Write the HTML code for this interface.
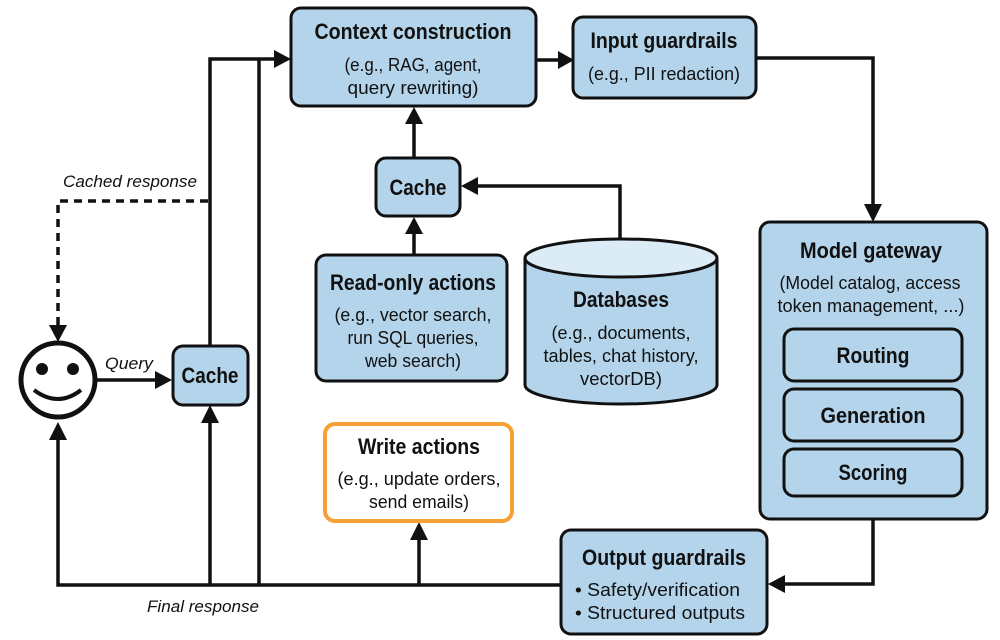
<!DOCTYPE html>
<html><head><meta charset="utf-8"><style>
html,body{margin:0;padding:0;background:#fff;}
svg{display:block;}
text{font-family:"Liberation Sans Narrow","Liberation Sans",sans-serif;fill:#111;text-anchor:middle;}
.t{font-weight:bold;font-size:22px;}
.s{font-size:18px;}
.i{font-style:italic;font-size:17px;}
.b{fill:#b3d4ea;stroke:#111;stroke-width:3;}
.l{stroke:#111;stroke-width:3.5;fill:none;}
</style></head><body>
<svg width="1000" height="640" viewBox="0 0 1000 640" xmlns="http://www.w3.org/2000/svg">
<!-- connectors -->
<polyline class="l" points="756,58 873,58 873,206"/>
<path d="M864,204 L882,204 L873,222z" fill="#111"/>
<line class="l" x1="536" y1="60" x2="560" y2="60"/>
<path d="M558,51 L574,60 L558,69z" fill="#111"/>
<polyline class="l" points="210,346 210,59 276,59"/>
<line class="l" x1="259" y1="585" x2="259" y2="59"/>
<path d="M274,50 L291,59 L274,68z" fill="#111"/>
<line class="l" x1="414" y1="158" x2="414" y2="122"/>
<path d="M405,124 L414,107 L423,124z" fill="#111"/>
<line class="l" x1="414" y1="255" x2="414" y2="232"/>
<path d="M405,234 L414,217 L423,234z" fill="#111"/>
<polyline class="l" points="620,238 620,186 476,186"/>
<path d="M478,177 L461,186 L478,195z" fill="#111"/>
<polyline class="l" points="873,518 873,584 783,584"/>
<path d="M785,575 L768,584 L785,593z" fill="#111"/>
<polyline class="l" points="561,585 58,585 58,438"/>
<path d="M49,440 L58,422 L67,440z" fill="#111"/>
<line class="l" x1="210" y1="585" x2="210" y2="421"/>
<path d="M201,423 L210,405 L219,423z" fill="#111"/>
<line class="l" x1="419" y1="585" x2="419" y2="538"/>
<path d="M410,540 L419,522 L428,540z" fill="#111"/>
<line class="l" x1="96" y1="380" x2="157" y2="380"/>
<path d="M155,371 L172,380 L155,389z" fill="#111"/>
<polyline points="208,201 58,201 58,326" style="stroke:#111;stroke-width:3.5;fill:none;stroke-dasharray:8,6"/>
<path d="M49,325 L67,325 L58,342z" fill="#111"/>
<!-- smiley -->
<circle cx="58" cy="380" r="37" fill="#fff" stroke="#111" stroke-width="5"/>
<circle cx="42" cy="369" r="6" fill="#111"/><circle cx="73" cy="369" r="6" fill="#111"/>
<path d="M34,390 Q58,408 81,390" stroke="#111" stroke-width="4" fill="none"/>
<text class="i" x="129" y="369" textLength="48" lengthAdjust="spacingAndGlyphs">Query</text>
<text class="i" x="130" y="187" textLength="134" lengthAdjust="spacingAndGlyphs">Cached response</text>
<text class="i" x="203" y="612" textLength="112" lengthAdjust="spacingAndGlyphs">Final response</text>
<!-- boxes -->
<rect class="b" x="291" y="8" width="245" height="98" rx="10"/>
<text class="t" x="413" y="39" textLength="197" lengthAdjust="spacingAndGlyphs">Context construction</text>
<text class="s" x="413" y="71" textLength="137" lengthAdjust="spacingAndGlyphs">(e.g., RAG, agent,</text>
<text class="s" x="413" y="94" textLength="131" lengthAdjust="spacingAndGlyphs">query rewriting)</text>
<rect class="b" x="573" y="17" width="183" height="81" rx="10"/>
<text class="t" x="664" y="48" textLength="147" lengthAdjust="spacingAndGlyphs">Input guardrails</text>
<text class="s" x="664" y="80" textLength="152" lengthAdjust="spacingAndGlyphs">(e.g., PII redaction)</text>
<rect class="b" x="376" y="158" width="84" height="58" rx="10"/>
<text class="t" x="418" y="195" textLength="57" lengthAdjust="spacingAndGlyphs">Cache</text>
<rect class="b" x="173" y="346" width="75" height="59" rx="10"/>
<text class="t" x="210" y="383" textLength="57" lengthAdjust="spacingAndGlyphs">Cache</text>
<rect class="b" x="316" y="255" width="191" height="126" rx="10"/>
<text class="t" x="413" y="290" textLength="166" lengthAdjust="spacingAndGlyphs">Read-only actions</text>
<text class="s" x="413" y="321" textLength="157" lengthAdjust="spacingAndGlyphs">(e.g., vector search,</text>
<text class="s" x="413" y="344" textLength="131" lengthAdjust="spacingAndGlyphs">run SQL queries,</text>
<text class="s" x="413" y="367" textLength="96" lengthAdjust="spacingAndGlyphs">web search)</text>
<!-- cylinder -->
<path d="M525,258 L525,385 A96,19 0 0 0 717,385 L717,258" class="b"/>
<ellipse cx="621" cy="258" rx="96" ry="19" fill="#dcecf7" stroke="#111" stroke-width="3"/>
<text class="t" x="621" y="307" textLength="96" lengthAdjust="spacingAndGlyphs">Databases</text>
<text class="s" x="621" y="339" textLength="139" lengthAdjust="spacingAndGlyphs">(e.g., documents,</text>
<text class="s" x="621" y="362" textLength="155" lengthAdjust="spacingAndGlyphs">tables, chat history,</text>
<text class="s" x="621" y="385" textLength="82" lengthAdjust="spacingAndGlyphs">vectorDB)</text>
<rect x="325" y="424" width="187" height="97" rx="10" fill="#fff" stroke="#f7a035" stroke-width="4"/>
<text class="t" x="419" y="454" textLength="122" lengthAdjust="spacingAndGlyphs">Write actions</text>
<text class="s" x="419" y="485" textLength="163" lengthAdjust="spacingAndGlyphs">(e.g., update orders,</text>
<text class="s" x="419" y="508" textLength="100" lengthAdjust="spacingAndGlyphs">send emails)</text>
<rect class="b" x="760" y="222" width="227" height="297" rx="10"/>
<text class="t" x="871" y="258" textLength="142" lengthAdjust="spacingAndGlyphs">Model gateway</text>
<text class="s" x="870" y="289" textLength="181" lengthAdjust="spacingAndGlyphs">(Model catalog, access</text>
<text class="s" x="871" y="312" textLength="187" lengthAdjust="spacingAndGlyphs">token management, ...)</text>
<rect class="b" x="784" y="329" width="178" height="52" rx="10"/>
<text class="t" x="873" y="363" textLength="73" lengthAdjust="spacingAndGlyphs">Routing</text>
<rect class="b" x="784" y="389" width="178" height="52" rx="10"/>
<text class="t" x="873" y="423" textLength="105" lengthAdjust="spacingAndGlyphs">Generation</text>
<rect class="b" x="784" y="449" width="178" height="47" rx="10"/>
<text class="t" x="873" y="480" textLength="69" lengthAdjust="spacingAndGlyphs">Scoring</text>
<rect class="b" x="561" y="530" width="206" height="104" rx="10"/>
<text class="t" x="664" y="565" textLength="164" lengthAdjust="spacingAndGlyphs">Output guardrails</text>
<text class="s" x="575" y="596" style="text-anchor:start" textLength="165" lengthAdjust="spacingAndGlyphs">•  Safety/verification</text>
<text class="s" x="575" y="619" style="text-anchor:start" textLength="170" lengthAdjust="spacingAndGlyphs">•  Structured outputs</text>
</svg>
</body></html>
